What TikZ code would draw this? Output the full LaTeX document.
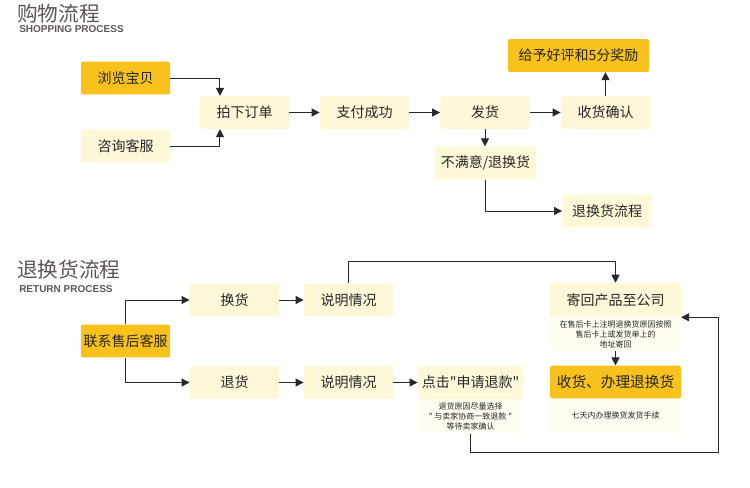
\documentclass[tikz,border=0pt]{standalone}
\usepackage{fontspec}
\setmainfont{Noto Sans CJK SC}[Ligatures=TeXOff]
\newfontfamily\latinbold{Liberation Sans}
\usetikzlibrary{arrows.meta}
\definecolor{boxlight}{RGB}{255,248,216}
\definecolor{boxorange}{RGB}{249,193,27}
\definecolor{notefill}{RGB}{255,253,240}
\definecolor{titlegray}{RGB}{95,85,85}
\definecolor{linegray}{RGB}{40,40,40}

\begin{document}
\begin{tikzpicture}[x=0.75pt, y=-0.75pt,
	box/.style={rectangle, rounded corners=1.5pt, fill=boxlight, minimum width=67pt, minimum height=24.5pt, inner sep=0pt, text=black!85, font=\fontsize{10.5}{12}\selectfont},
	hotbox/.style={box, fill=boxorange},
	notebox/.style={rectangle, fill=notefill, minimum width=98pt, minimum height=25pt, inner sep=0pt, align=center, text=black!85, font=\fontsize{6}{7.3}\selectfont},
	heading/.style={anchor=west, inner sep=0pt, text=titlegray, font=\fontsize{15.5}{16}\selectfont},
	subheading/.style={anchor=west, inner sep=0pt, text=titlegray, font=\latinbold\bfseries\fontsize{7.5}{8}\selectfont},
	flow/.style={draw=linegray, line width=0.75pt, -{Triangle[length=6pt,width=6pt]}}]

	% Canvas
	\fill[white] (0,0) rectangle (750,487);
	\useasboundingbox (0,0) rectangle (750,487);

	% Titles
	\node[heading] (titleA) at (17,14) {购物流程};
	\node[subheading] (subA) at (19,29.5) {SHOPPING PROCESS};
	\node[heading] (titleB) at (17,270) {退换货流程};
	\node[subheading] (subB) at (19,289.5) {RETURN PROCESS};

	% Shopping process
	\node[hotbox] (liulan) at (125.5,78) {浏览宝贝};
	\node[box] (zixun) at (125.5,146) {咨询客服};
	\node[box] (paixia) at (244.5,112.5) {拍下订单};
	\node[box] (zhifu) at (364.5,112.5) {支付成功};
	\node[box] (fahuo) at (485,112.5) {发货};
	\node[box] (shouhuo) at (605.5,112.5) {收货确认};
	\node[hotbox, minimum width=106pt] (haoping) at (578.5,55.5) {给予好评和5分奖励};
	\node[box, minimum width=76pt] (bumanyi) at (485.5,163) {不满意/退换货};
	\node[box] (liucheng) at (607,211) {退换货流程};

	% Shopping arrows
	\draw[flow] (liulan.east) -| ([xshift=-18.4pt]paixia.north);
	\draw[flow] (zixun.east) -| ([xshift=-18.4pt]paixia.south);
	\draw[flow] (paixia) -- (zhifu);
	\draw[flow] (zhifu) -- (fahuo);
	\draw[flow] (fahuo) -- (shouhuo);
	\draw[flow] (shouhuo.north) -- (shouhuo.north |- haoping.south);
	\draw[flow] (fahuo.south) -- (fahuo.south |- bumanyi.north);
	\draw[flow] (bumanyi.south) |- (liucheng.west);

	% Return process
	\node[hotbox] (lianxi) at (125.5,341) {联系售后客服};
	\node[box] (huanhuo) at (234.5,300) {换货};
	\node[box] (tuihuo) at (234.5,382.5) {退货};
	\node[box] (shuomingA) at (348.5,300) {说明情况};
	\node[box] (shuomingB) at (348.5,382.5) {说明情况};
	\node[box, minimum width=79pt] (dianji) at (470.5,382.5) {点击"申请退款"};
	\node[notebox, minimum width=79pt, minimum height=25.5pt, anchor=north] (dianjinote) at (dianji.south) {退货原因尽量选择\\" 与卖家协商一致退款 "\\等待卖家确认};
	\node[box, minimum width=98pt, minimum height=25.5pt] (jihui) at (615.5,300) {寄回产品至公司};
	\node[notebox, anchor=north] (jihuinote) at (jihui.south) {在售后卡上注明退换货原因按照\\售后卡上或发货单上的\\地址寄回};
	\node[hotbox, minimum width=98pt, font=\fontsize{11}{12}\selectfont] (shouban) at (615.5,382) {收货、办理退换货};
	\node[notebox, minimum height=25.5pt, anchor=north] (shoubannote) at (shouban.south) {七天内办理换货发货手续};

	% Return arrows
	\draw[flow] (lianxi.north) |- (huanhuo.west);
	\draw[flow] (lianxi.south) |- (tuihuo.west);
	\draw[flow] (huanhuo) -- (shuomingA);
	\draw[flow] (tuihuo) -- (shuomingB);
	\draw[flow] (shuomingB) -- (dianji);
	\draw[flow] (shuomingA.north) |- ([yshift=16pt]jihui.north) -- (jihui.north);
	\draw[flow] (jihuinote) -- (shouban);
	\draw[flow] (dianjinote.south) -- ++(0,-14pt) -| ([xshift=27.75pt]jihui.south east) -- (jihui.south east);

\end{tikzpicture}
\end{document}
